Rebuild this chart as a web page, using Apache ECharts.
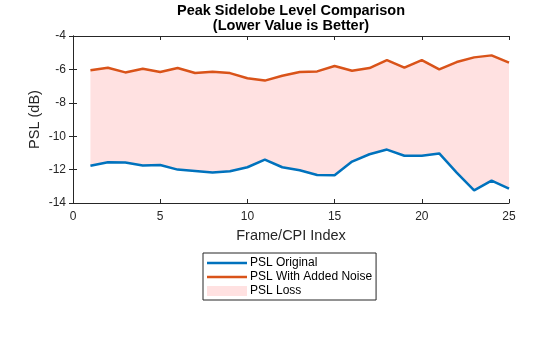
<!DOCTYPE html>
<html><head><meta charset="utf-8">
<script src="https://cdn.jsdelivr.net/npm/echarts@6/dist/echarts.min.js"></script>
<style>html,body{margin:0;padding:0;background:#fff}#c{width:560px;height:337px}</style>
</head><body><div id="c"></div>
<script>
var frames = [1,2,3,4,5,6,7,8,9,10,11,12,13,14,15,16,17,18,19,20,21,22,23,24,25];
var pslOriginal = [-11.77,-11.56,-11.58,-11.76,-11.72,-12.0,-12.08,-12.18,-12.1,-11.86,-11.4,-11.86,-12.04,-12.32,-12.34,-11.52,-11.08,-10.8,-11.17,-11.17,-11.03,-12.18,-13.24,-12.66,-13.14];
var pslNoise = [-6.05,-5.9,-6.18,-5.96,-6.16,-5.92,-6.22,-6.14,-6.22,-6.53,-6.67,-6.38,-6.16,-6.12,-5.8,-6.08,-5.92,-5.44,-5.9,-5.44,-6.0,-5.56,-5.28,-5.16,-5.6];
var xTicks = [0,5,10,15,20,25];
var yTicks = [-14,-12,-10,-8,-6,-4];

var blue = '#0072BD', orange = '#D95319', pink = '#FFE1E1', ink = '#262626';
var pair = function(arr){ return frames.map(function(f,i){ return [f, arr[i]]; }); };
var lineIcon = 'path://M0,0M0,3.7L40,3.7L40,6.3L0,6.3ZM40,10';

var chart = echarts.init(document.getElementById('c'), null, {renderer:'canvas'});
var font = 'Liberation Sans, Arial, Helvetica, sans-serif';
var axisCommon = {
  axisLine:{show:true, lineStyle:{color:ink, width:1}},
  axisTick:{show:true, inside:true, length:4, lineStyle:{color:ink}},
  splitLine:{show:false}
};
chart.setOption({
  animation:false,
  textStyle:{fontFamily:font},
  graphic:[{
    type:'text', x:291, y:3, silent:true,
    style:{text:'Peak Sidelobe Level Comparison\n(Lower Value is Better)',
      fontFamily:font, fontSize:14.5, fontWeight:'bold', fill:'#000',
      lineHeight:15.5, align:'center', verticalAlign:'top'}
  }],
  grid:{left:73, right:51, top:36, bottom:134, containLabel:false},
  legend:{
    orient:'vertical', left:203, top:253,
    padding:[4,4,3,4],
    borderColor:ink, borderWidth:1, backgroundColor:'#fff',
    itemWidth:40, itemHeight:10, itemGap:2,
    textStyle:{fontFamily:font, fontSize:12, color:'#000', padding:[0,0,0,-2]},
    data:[
      {name:'PSL Original', icon:lineIcon, itemStyle:{color:blue, borderWidth:0}},
      {name:'PSL With Added Noise', icon:lineIcon, itemStyle:{color:orange, borderWidth:0}},
      {name:'PSL Loss', icon:'rect', itemStyle:{color:pink, borderWidth:0}}
    ]
  },
  xAxis:[
    Object.assign({type:'value', min:0, max:25, interval:5, position:'bottom',
      name:'Frame/CPI Index', nameLocation:'middle', nameGap:25,
      nameTextStyle:{fontFamily:font, fontSize:14.5, color:ink},
      axisLabel:{fontFamily:font, fontSize:12, color:ink, margin:8,
        customValues:xTicks}}, axisCommon),
    Object.assign({type:'value', min:0, max:25, interval:5, position:'top',
      axisLabel:{show:false}}, axisCommon)
  ],
  yAxis:[
    Object.assign({type:'value', min:-14, max:-4, interval:2, position:'left',
      name:'PSL (dB)', nameLocation:'middle', nameGap:31, nameMoveOverlap:false,
      nameTextStyle:{fontFamily:font, fontSize:14.5, color:ink},
      axisLabel:{fontFamily:font, fontSize:12, color:ink, margin:7,
        customValues:yTicks}}, axisCommon),
    Object.assign({type:'value', min:-14, max:-4, interval:2, position:'right',
      axisLabel:{show:false}}, axisCommon)
  ],
  series:[
    {name:'PSL Loss', type:'custom', data:[[0]], itemStyle:{color:pink}, z:1,
      renderItem:function(params, api){
        var pts = [];
        for (var i = 0; i < frames.length; i++) pts.push(api.coord([frames[i], pslNoise[i]]));
        for (var j = frames.length - 1; j >= 0; j--) pts.push(api.coord([frames[j], pslOriginal[j]]));
        return {type:'polygon', shape:{points:pts}, style:{fill:pink, stroke:null}, silent:true};
      }},
    {name:'PSL Original', type:'line', data:pair(pslOriginal), symbol:'none',
      lineStyle:{color:blue, width:2.5}, itemStyle:{color:blue}, z:3},
    {name:'PSL With Added Noise', type:'line', data:pair(pslNoise), symbol:'none',
      lineStyle:{color:orange, width:2.5}, itemStyle:{color:orange}, z:3}
  ]
});
</script></body></html>
